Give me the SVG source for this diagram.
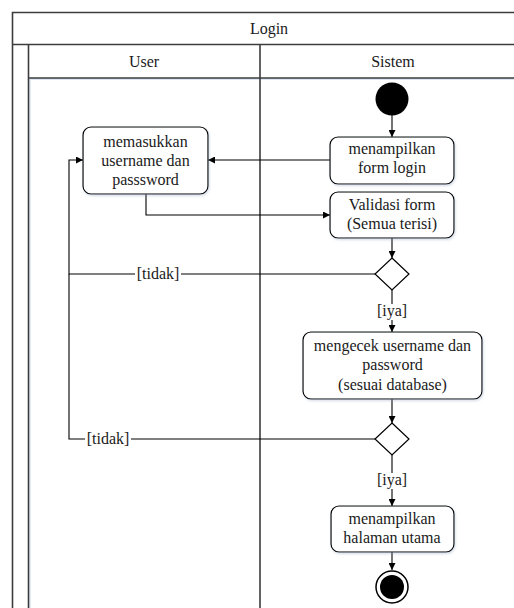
<svg xmlns="http://www.w3.org/2000/svg" width="514" height="608" viewBox="0 0 514 608">
  <style>
    .frame { fill: none; stroke: #3c3c3c; stroke-width: 1.6; }
    .act { fill: #ffffff; stroke: #000000; stroke-width: 1.2; }
    .dec { fill: #ffffff; stroke: #000000; stroke-width: 1.2; }
    .edge { fill: none; stroke: #000000; stroke-width: 1.1; }
    text { font-family: "Liberation Serif", "Times New Roman", Tinos, "DejaVu Serif", serif; font-size: 16px; fill: #1a1a1a; text-anchor: middle; }
    .lbl { fill: #ffffff; }
  </style>
  <defs>
    <marker id="arrow" viewBox="0 0 10 10" refX="10" refY="5" markerWidth="7" markerHeight="7" markerUnits="userSpaceOnUse" orient="auto">
      <path d="M0,0 L10,5 L0,10 z" fill="#000000"/>
    </marker>
    <filter id="shadow" x="-10%" y="-10%" width="125%" height="130%">
      <feDropShadow dx="1" dy="1.5" stdDeviation="1" flood-color="#8aa0b8" flood-opacity="0.35"/>
    </filter>
  </defs>

  <rect width="514" height="608" fill="#ffffff"/>

  <!-- swimlane frame -->
  <g id="frame" font-family="Liberation Serif, Times New Roman, serif">
    <line x1="28" y1="79" x2="520" y2="79" stroke="#dbe6f2" stroke-width="2"/>
    <line x1="30" y1="79" x2="30" y2="608" stroke="#e4ecf5" stroke-width="2"/>
    <path class="frame" d="M12.5,608 V12.5 H530"/>
    <line class="frame" x1="12" y1="44.5" x2="530" y2="44.5"/>
    <line class="frame" x1="28.5" y1="44.5" x2="28.5" y2="608"/>
    <line class="frame" x1="28.5" y1="78" x2="530" y2="78"/>
    <line class="frame" x1="260" y1="44.5" x2="260" y2="608"/>
    <text x="269" y="34">Login</text>
    <text x="144" y="67">User</text>
    <text x="393" y="67">Sistem</text>
  </g>

  <!-- connectors -->
  <g id="connectors">
    <line class="edge" x1="392" y1="115" x2="392" y2="137" marker-end="url(#arrow)"/>
    <line class="edge" x1="330" y1="160" x2="208" y2="160" marker-end="url(#arrow)"/>
    <path class="edge" d="M146,194 V215 H330" marker-end="url(#arrow)"/>
    <line class="edge" x1="392" y1="238" x2="392" y2="258" marker-end="url(#arrow)"/>
    <path class="edge" d="M375,274 H69 V160 H83" marker-end="url(#arrow)"/>
    <line class="edge" x1="392" y1="290" x2="392" y2="332" marker-end="url(#arrow)"/>
    <line class="edge" x1="392" y1="399" x2="392" y2="423" marker-end="url(#arrow)"/>
    <path class="edge" d="M375,439 H69 V274"/>
    <line class="edge" x1="392" y1="455" x2="392" y2="506" marker-end="url(#arrow)"/>
    <line class="edge" x1="392" y1="552" x2="392" y2="570" marker-end="url(#arrow)"/>

    <rect class="lbl" x="135" y="266" width="46" height="17"/>
    <text x="158" y="279">[tidak]</text>
    <rect class="lbl" x="85" y="431" width="46" height="17"/>
    <text x="108" y="444">[tidak]</text>
    <rect class="lbl" x="377" y="304" width="30" height="16"/>
    <text x="392" y="316">[iya]</text>
    <rect class="lbl" x="377" y="473" width="30" height="16"/>
    <text x="392" y="485">[iya]</text>
  </g>

  <g id="start">
    <circle cx="392" cy="99" r="16.5" fill="#000000"/>
  </g>

  <g id="menampilkan-form-login">
    <rect class="act" x="330" y="137" width="124" height="47" rx="8" filter="url(#shadow)"/>
    <text x="392" y="154">menampilkan</text>
    <text x="392" y="173">form login</text>
  </g>

  <g id="memasukkan-username">
    <rect class="act" x="83" y="127" width="125" height="67" rx="8" filter="url(#shadow)"/>
    <text x="145.5" y="147">memasukkan</text>
    <text x="145.5" y="166">username dan</text>
    <text x="145.5" y="185">passsword</text>
  </g>

  <g id="validasi-form">
    <rect class="act" x="330" y="192" width="124" height="46" rx="8" filter="url(#shadow)"/>
    <text x="392" y="210">Validasi form</text>
    <text x="392" y="229">(Semua terisi)</text>
  </g>

  <g id="decision-1">
    <path class="dec" d="M392,258 L409,274 L392,290 L375,274 Z"/>
  </g>

  <g id="mengecek-username">
    <rect class="act" x="303" y="332" width="179" height="67" rx="8" filter="url(#shadow)"/>
    <text x="392.5" y="351">mengecek username dan</text>
    <text x="392.5" y="370">password</text>
    <text x="392.5" y="390">(sesuai database)</text>
  </g>

  <g id="decision-2">
    <path class="dec" d="M392,423 L409,439 L392,455 L375,439 Z"/>
  </g>

  <g id="menampilkan-halaman-utama">
    <rect class="act" x="331" y="506" width="123" height="46" rx="8" filter="url(#shadow)"/>
    <text x="392" y="524">menampilkan</text>
    <text x="392" y="543">halaman utama</text>
  </g>

  <g id="end">
    <circle cx="392" cy="587" r="16" fill="#ffffff" stroke="#000000" stroke-width="1.5"/>
    <circle cx="392" cy="587" r="12" fill="#000000"/>
  </g>
</svg>
